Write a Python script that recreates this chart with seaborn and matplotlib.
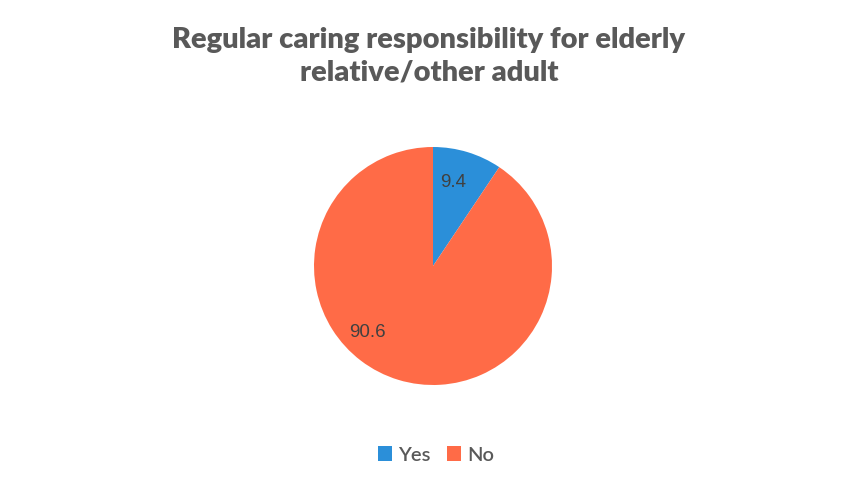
import matplotlib
matplotlib.use("Agg")
import matplotlib.pyplot as plt
import seaborn as sns

categories = ["Yes", "No"]
values = [9.4, 90.6]
value_labels = ["9.4", "90.6"]
title = "Regular caring responsibility for elderly\nrelative/other adult"

sns.set_theme(style="white")
plt.rcParams['font.family'] = ['Lato', 'DejaVu Sans']
palette = sns.color_palette(["#2B8FD9", "#FF6B47"])

W, H = 858, 495
fig = plt.figure(figsize=(W / 100, H / 100), dpi=100)
cx, cy, r = 433, 266, 119
ax = fig.add_axes([(cx - r) / W, (H - cy - r) / H, 2 * r / W, 2 * r / H])

wedges, texts = ax.pie(values, colors=palette, startangle=90, counterclock=False,
                       radius=1, wedgeprops=dict(linewidth=0))
ax.set_xlim(-1, 1)
ax.set_ylim(-1, 1)
ax.set_aspect("equal")
ax.axis("off")

label_pos = [(0.17, 0.70), (-0.55, -0.56)]
for lab, (x, y) in zip(value_labels, label_pos):
    ax.text(x, y, lab, ha="center", va="center", fontsize=13.5, color="#404040",
            family=["Liberation Sans", "DejaVu Sans"])

fig.text(0.5, 1 - 56 / H, title, ha="center", va="center", fontsize=21,
         fontweight="heavy", color="#595959", linespacing=1.3)

fig.legend(wedges, categories, loc="center", bbox_to_anchor=(0.508, 1 - 455 / H),
           ncol=2, frameon=False, fontsize=14.5, handlelength=0.7, handleheight=0.7,
           handletextpad=0.3, columnspacing=0.8, labelcolor="#595959",
           prop=dict(family=["Lato", "DejaVu Sans"], weight="semibold", size=14.5))

fig.savefig("out.png", dpi=100, facecolor="white")
